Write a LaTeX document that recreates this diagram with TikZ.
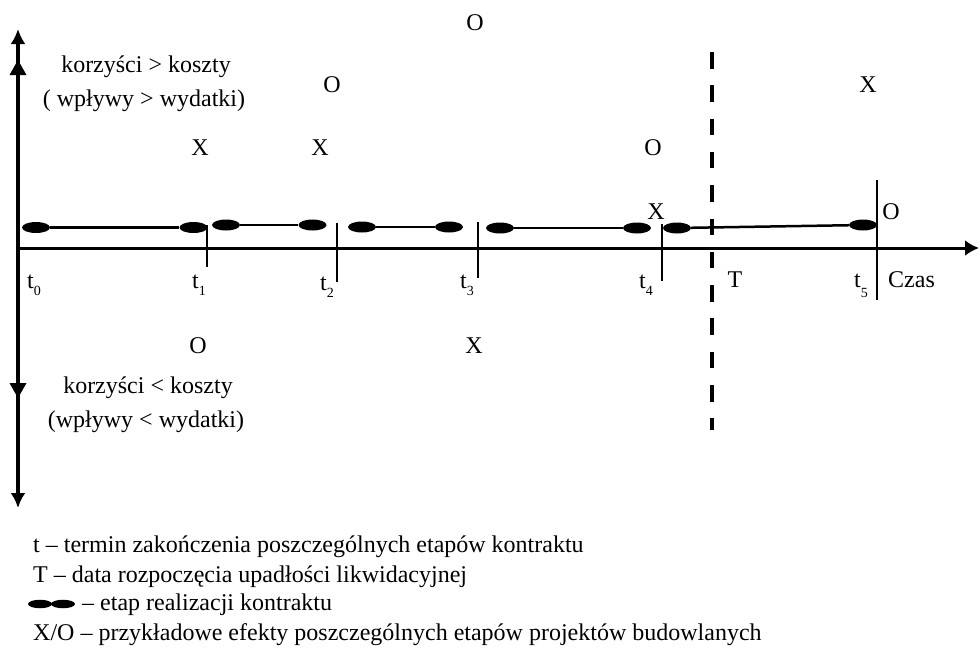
\documentclass[tikz,border=0pt]{standalone}
\usepackage{fontspec}
\setmainfont{Liberation Serif}
\usetikzlibrary{shapes.geometric,arrows.meta}
\newcommand{\tsub}[2][-7pt]{\raisebox{#1}{\fontsize{14}{14}\selectfont #2}}
\begin{document}
\begin{tikzpicture}[x=1pt,y=-1pt,
  lbl/.style={font=\fontsize{24}{28}\selectfont, inner sep=0pt, anchor=base},
  lblw/.style={lbl, anchor=base west},
  axisline/.style={line width=3.5pt},
  tickline/.style={line width=2.5pt},
  stageline/.style={line width=2.5pt},
  stagend/.style={ellipse, fill=black, draw=none, minimum width=28pt, minimum height=11pt, inner sep=0pt},
  legend end/.style={ellipse, fill=black, draw=none, minimum width=24pt, minimum height=8.5pt, inner sep=0pt},
  bankrupt/.style={line width=4.5pt, dash pattern=on 16.5pt off 16.8pt},
  midtri/.style={fill=black}]
\useasboundingbox (0,0) rectangle (980,657);
% axes
\coordinate (origin) at (18,248);
\coordinate (ytop) at (18,29);
\coordinate (ybot) at (18,508);
\coordinate (xend) at (979,248);
\draw[axisline,{Latex[length=15pt,width=15pt]}-{Latex[length=15pt,width=15pt]}] (ybot) -- (ytop);
\draw[line width=3pt,-{Latex[length=14pt,width=16pt]}] (origin) -- (xend);
\fill[midtri] (18,60) -- (26.5,75) -- (9.5,75) -- cycle;
\fill[midtri] (18,398) -- (26.5,383) -- (9.5,383) -- cycle;
% ticks
\coordinate (t1a) at (207,225); \coordinate (t1b) at (207,267);
\coordinate (t2a) at (337,223); \coordinate (t2b) at (337,282);
\coordinate (t3a) at (478,222); \coordinate (t3b) at (478,278);
\coordinate (t4a) at (662,224); \coordinate (t4b) at (662,281);
\coordinate (t5a) at (877,180); \coordinate (t5b) at (877,300);
\draw[tickline] (t1a) -- (t1b);
\draw[tickline] (t2a) -- (t2b);
\draw[tickline] (t3a) -- (t3b);
\draw[tickline] (t4a) -- (t4b);
\draw[tickline] (t5a) -- (t5b);
% bankruptcy line
\coordinate (Ta) at (712,52); \coordinate (Tb) at (712,430);
\draw[bankrupt] (Ta) -- (Tb);
% stages
\node[stagend] (s1a) at (36,227.5) {};
\node[stagend] (s1b) at (193.5,227.5) {};
\node[stagend] (s2a) at (226,225) {};
\node[stagend] (s2b) at (312.5,225) {};
\node[stagend] (s3a) at (362,227) {};
\node[stagend] (s3b) at (449,227) {};
\node[stagend] (s4a) at (500,228) {};
\node[stagend] (s4b) at (637,228) {};
\node[stagend] (s5a) at (677,228) {};
\node[stagend] (s5b) at (863,225) {};
\draw[stageline] (s1a) -- (s1b);
\draw[stageline] (s2a) -- (s2b);
\draw[stageline] (s3a) -- (s3b);
\draw[stageline] (s4a) -- (s4b);
\draw[stageline] (s5a) -- (s5b);
% time labels
\node[lblw] (l0) at (27,288) {t\tsub{0}};
\node[lblw] (l1) at (192,288) {t\tsub{1}};
\node[lblw] (l2) at (320,290) {t\tsub{2}};
\node[lblw] (l3) at (460,288) {t\tsub{3}};
\node[lblw] (l4) at (639,288) {t\tsub{4}};
\node[lbl] (lT) at (735,287) {T};
\node[lblw] (l5) at (854,287) {t\tsub[-10pt]{5}};
\node[lblw] (czas) at (888,287) {Czas};
% X/O markers
\node[lbl] (m1) at (475,30) {O};
\node[lbl] (m2) at (332,92) {O};
\node[lbl] (m3) at (868,92) {X};
\node[lbl] (m4) at (200,155) {X};
\node[lbl] (m5) at (320,155) {X};
\node[lbl] (m6) at (653,155) {O};
\node[lbl] (m7) at (656,219) {X};
\node[lbl] (m8) at (891,219) {O};
\node[lbl] (m9) at (198,353) {O};
\node[lbl] (m10) at (474,353) {X};
% region texts
\node[lbl] (up1) at (146,72) {korzyści > koszty};
\node[lbl] (up2) at (144,106) {( wpływy > wydatki)};
\node[lbl] (dn1) at (148,393) {korzyści < koszty};
\node[lbl] (dn2) at (146,427) {(wpływy < wydatki)};
% legend
\node[lblw] (lg1) at (33,552) {t – termin zakończenia poszczególnych etapów kontraktu};
\node[lblw] (lg2) at (33,582) {T – data rozpoczęcia upadłości likwidacyjnej};
\node[legend end] (lea) at (40,604) {};
\node[legend end] (leb) at (63,604) {};
\node[lblw] (lg3) at (82,610) {– etap realizacji kontraktu};
\node[lblw] (lg4) at (33,640) {X/O – przykładowe efekty poszczególnych etapów projektów budowlanych};
\end{tikzpicture}
\end{document}
